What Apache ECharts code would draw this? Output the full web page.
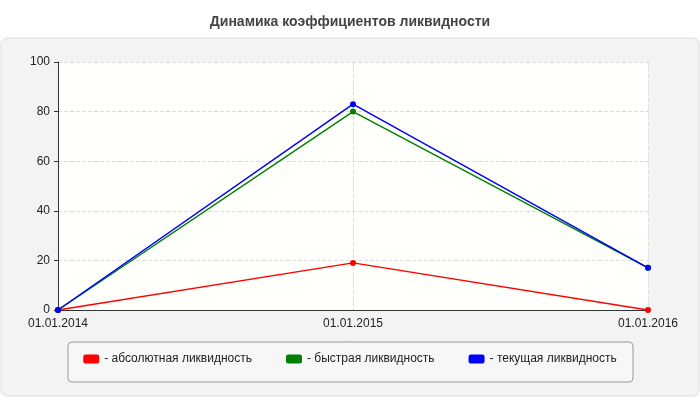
<!DOCTYPE html>
<html><head><meta charset="utf-8">
<script src="https://cdn.jsdelivr.net/npm/echarts@6/dist/echarts.min.js"></script>
<style>body{margin:0}#c{width:700px;height:400px}</style>
</head><body><div id="c"></div>
<script>
var categories = ['01.01.2014', '01.01.2015', '01.01.2016'];
var absolute = [0, 19, 0];
var quick = [0, 80, 17];
var current = [0, 83, 17];
var yTicks = [0, 20, 40, 60, 80, 100];

var chart = echarts.init(document.getElementById('c'));
function line(name, data, color) {
    return {
        name: name, type: 'line', data: data,
        symbol: 'circle', symbolSize: 6,
        itemStyle: {color: color},
        lineStyle: {color: color, width: 1.5}
    };
}
chart.setOption({
    animation: false,
    title: {
        text: 'Динамика коэффициентов ликвидности', left: 'center', top: 10,
        textStyle: {fontFamily: 'Arial', fontSize: 14, fontWeight: 'bold', color: '#444'}
    },
    graphic: [
        {type: 'rect', z: -10, shape: {x: 1, y: 38, width: 698, height: 358, r: 6},
         style: {fill: '#f3f3f3', stroke: '#dddddd'}},
        {type: 'rect', z: -5, shape: {x: 58, y: 62, width: 590, height: 248},
         style: {fill: '#fffffb'}},
        {type: 'rect', z: -5, shape: {x: 68, y: 342, width: 565, height: 40, r: 4},
         style: {fill: '#f7f7f7', stroke: '#999'}}
    ],
    grid: {left: 58, right: 52, top: 62, bottom: 90},
    legend: {
        bottom: 30, left: 'center', itemGap: 34,
        icon: 'roundRect', itemWidth: 16, itemHeight: 9,
        textStyle: {fontFamily: 'Arial', fontSize: 12, color: '#222'},
        formatter: function (n) { return '- ' + n; }
    },
    xAxis: {
        type: 'category', data: categories, boundaryGap: false,
        axisLine: {lineStyle: {color: '#333'}},
        axisTick: {show: false},
        axisLabel: {color: '#222', fontFamily: 'Arial', fontSize: 12},
        splitLine: {show: true, lineStyle: {type: 'dashed', color: '#ddd'}}
    },
    yAxis: {
        type: 'value', min: yTicks[0], max: yTicks[yTicks.length - 1], interval: 20,
        axisLine: {show: true, lineStyle: {color: '#333'}},
        axisTick: {show: true, length: 4},
        axisLabel: {color: '#222', fontFamily: 'Arial', fontSize: 12},
        splitLine: {lineStyle: {type: 'dashed', color: '#ddd'}}
    },
    series: [
        line('абсолютная ликвидность', absolute, '#ff0000'),
        line('быстрая ликвидность', quick, '#008000'),
        line('текущая ликвидность', current, '#0000ff')
    ]
});
</script></body></html>
